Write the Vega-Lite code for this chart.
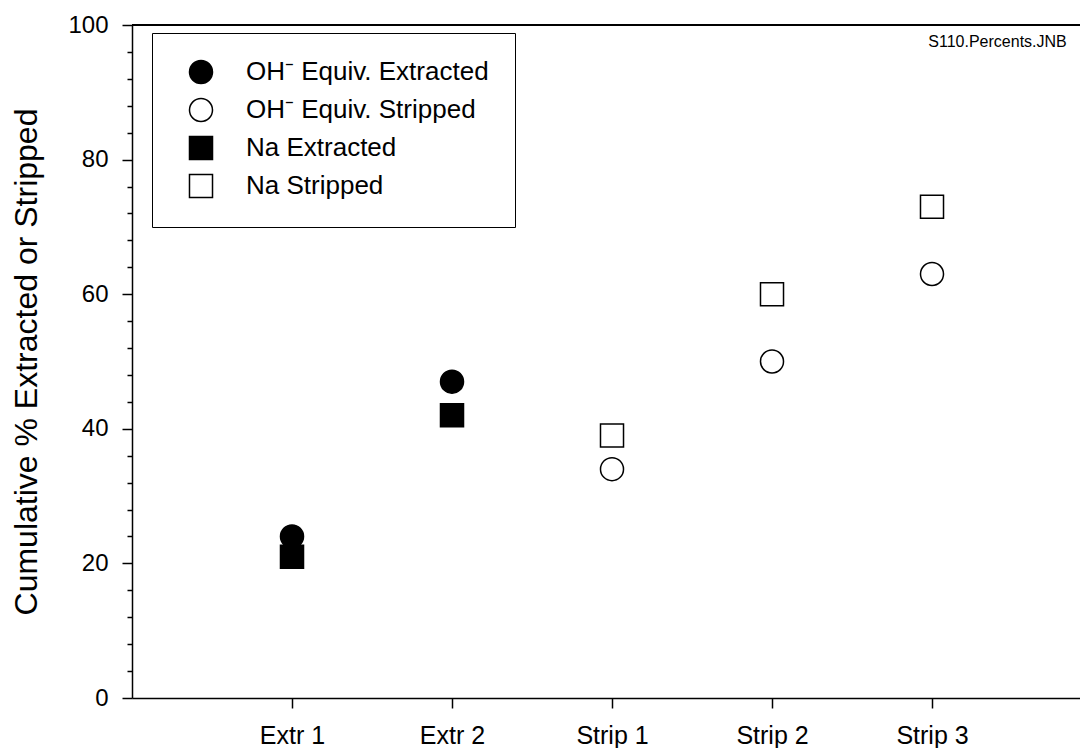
{
  "$schema": "https://vega.github.io/schema/vega-lite/v6.json",
  "width": 948,
  "height": 673,
  "autosize": {"type": "none"},
  "padding": {"left": 132, "top": 25, "right": 0, "bottom": 50},
  "background": "white",
  "config": {
    "view": {"stroke": null},
    "font": "Liberation Sans"
  },
  "title": {
    "text": "S110.Percents.JNB",
    "anchor": "end",
    "fontSize": 16,
    "fontWeight": "normal",
    "font": "Liberation Sans",
    "color": "black",
    "baseline": "alphabetic",
    "offset": 0,
    "dx": -14,
    "dy": 50
  },
  "data": {
    "values": [
      {"step": "Extr 1", "series": "OH⁻ Equiv. Extracted", "percent": 24},
      {"step": "Extr 1", "series": "Na Extracted", "percent": 21},
      {"step": "Extr 2", "series": "OH⁻ Equiv. Extracted", "percent": 47},
      {"step": "Extr 2", "series": "Na Extracted", "percent": 42},
      {"step": "Strip 1", "series": "OH⁻ Equiv. Stripped", "percent": 34},
      {"step": "Strip 1", "series": "Na Stripped", "percent": 39},
      {"step": "Strip 2", "series": "OH⁻ Equiv. Stripped", "percent": 50},
      {"step": "Strip 2", "series": "Na Stripped", "percent": 60},
      {"step": "Strip 3", "series": "OH⁻ Equiv. Stripped", "percent": 63},
      {"step": "Strip 3", "series": "Na Stripped", "percent": 73}
    ]
  },
  "layer": [
    {
      "mark": {"type": "rule", "color": "black", "strokeWidth": 1.5},
      "encoding": {
        "y": {
          "datum": 100,
          "type": "quantitative",
          "scale": {"domain": [0, 100], "nice": false},
          "axis": {
            "orient": "left",
            "title": null,
            "values": [4, 8, 12, 16, 24, 28, 32, 36, 44, 48, 52, 56, 64, 68, 72, 76, 84, 88, 92, 96],
            "labels": false,
            "domain": false,
            "grid": false,
            "tickSize": 5,
            "tickColor": "black",
            "tickWidth": 1.5
          }
        }
      }
    },
    {
      "mark": {"type": "point", "filled": true, "stroke": "black", "strokeWidth": 1.5, "opacity": 1},
      "encoding": {
        "x": {
          "field": "step",
          "type": "nominal",
          "sort": null,
          "scale": {
            "type": "point",
            "domain": ["Extr 1", "Extr 2", "Strip 1", "Strip 2", "Strip 3"],
            "padding": 0.9625,
            "align": 0.5195
          },
          "axis": {
            "title": null,
            "orient": "bottom",
            "labelAngle": 0,
            "labelFontSize": 25,
            "labelPadding": 15,
            "labelColor": "black",
            "tickSize": 10,
            "tickColor": "black",
            "tickWidth": 1.5,
            "domainColor": "black",
            "domainWidth": 1.5,
            "grid": false
          }
        },
        "y": {
          "field": "percent",
          "type": "quantitative",
          "axis": {
            "orient": "left",
            "title": "Cumulative % Extracted or Stripped",
            "titleFontSize": 32,
            "titleFontWeight": "normal",
            "titleColor": "black",
            "titleX": -96,
            "titleY": 336.5,
            "titleBaseline": "alphabetic",
            "titleAngle": -90,
            "values": [0, 20, 40, 60, 80, 100],
            "labelFontSize": 24,
            "labelPadding": 14,
            "labelColor": "black",
            "tickSize": 10,
            "tickColor": "black",
            "tickWidth": 1.5,
            "domainColor": "black",
            "domainWidth": 1.5,
            "grid": false
          }
        },
        "shape": {
          "field": "series",
          "type": "nominal",
          "scale": {
            "domain": ["OH⁻ Equiv. Extracted", "OH⁻ Equiv. Stripped", "Na Extracted", "Na Stripped"],
            "range": ["circle", "circle", "square", "square"]
          },
          "legend": {
            "title": null,
            "orient": "none",
            "legendX": 20,
            "legendY": 8,
            "strokeColor": "black",
            "fillColor": "white",
            "padding": 26,
            "symbolOffset": 10,
            "symbolStrokeColor": "black",
            "symbolStrokeWidth": 1.5,
            "labelFontSize": 26,
            "labelColor": "black",
            "labelOffset": 32,
            "labelLimit": 400,
            "rowPadding": 8
          }
        },
        "fill": {
          "field": "series",
          "type": "nominal",
          "scale": {
            "domain": ["OH⁻ Equiv. Extracted", "OH⁻ Equiv. Stripped", "Na Extracted", "Na Stripped"],
            "range": ["black", "white", "black", "white"]
          }
        },
        "size": {
          "field": "series",
          "type": "nominal",
          "scale": {
            "domain": ["OH⁻ Equiv. Extracted", "OH⁻ Equiv. Stripped", "Na Extracted", "Na Stripped"],
            "range": [530, 530, 484, 484]
          }
        }
      }
    }
  ],
  "resolve": {"axis": {"y": "independent"}}
}
